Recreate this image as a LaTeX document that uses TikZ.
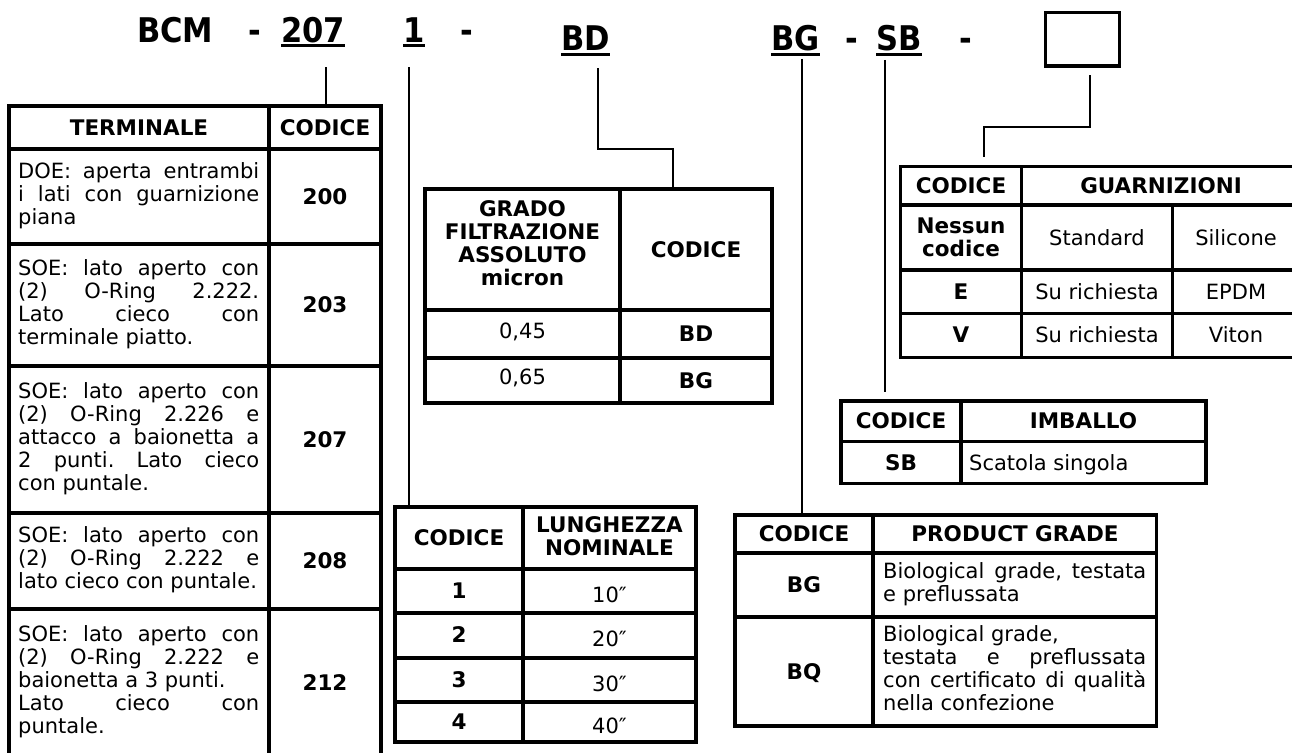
\documentclass[tikz,border=0pt]{standalone}
\usepackage{fontspec}
\setmainfont{DejaVu Sans}
\usepackage{graphicx}
\tolerance=10000 \hbadness=10000 \hyphenpenalty=10000 \exhyphenpenalty=10000
\frenchspacing
\newcommand\myhdf{\fontsize{21.5}{23}\selectfont\bfseries}
\newcommand\mytxf{\fontsize{21}{23}\selectfont}
\newcommand\mytitlef{\fontsize{34}{40}\selectfont\bfseries}
\newcommand\sx[1]{\scalebox{0.9}[1]{#1}}
\tikzset{
  tline/.style={line width=3.2pt},
  tframe/.style={draw, line width=3.2pt, inner sep=0pt, outer sep=0pt, anchor=north west},
  conn/.style={line width=2pt},
  ttl/.style={inner sep=0pt, anchor=base west, font=\mytitlef},
  ul/.style={line width=3pt},
  hd/.style={inner sep=0pt, font=\myhdf, align=center},
  hdb/.style={hd, anchor=base},
  txb/.style={inner sep=0pt, font=\mytxf, anchor=base},
  bodytext/.style={inner sep=0pt, font=\mytxf, text width=#1, align=justify, anchor=west}
}
\begin{document}
\begin{tikzpicture}[x=1pt,y=-1pt]
\path[use as bounding box] (0,0) rectangle (1292,752);
\clip (0,0) rectangle (1292,752);
\fill[white] (0,0) rectangle (1292,752);

% ---------- title ----------
\node[ttl] (tBCM) at (137,42) {\sx{BCM}};
\node[ttl] (tda) at (248,42) {\sx{-}};
\node[ttl] (t207) at (281,42) {\sx{207}};
\node[ttl] (t1) at (403,42) {\sx{1}};
\node[ttl] (tdb) at (460,42) {\sx{-}};
\node[ttl] (tBD) at (561,51) {\sx{BD}};
\node[ttl] (tBG) at (771,51) {\sx{BG}};
\node[ttl] (tdc) at (845,51) {\sx{-}};
\node[ttl] (tSB) at (876,51) {\sx{SB}};
\node[ttl] (tdd) at (959,51) {\sx{-}};
\foreach \n in {t207,t1,tBD,tBG,tSB}
  \draw[ul] ([yshift=-4pt]\n.base west) -- ([yshift=-4pt]\n.base east);
\node[draw, line width=3pt, inner sep=0pt, outer sep=0pt, minimum width=74, minimum height=53, anchor=north west] (box) at (1045,13) {};

% ---------- TERMINALE table ----------
\node[tframe, minimum width=372, minimum height=651] (tT) at (9,106) {};
\draw[tline] (269,106) -- (269,757);
\foreach \yy in {149,244,366,513,609} \draw[tline] (9,\yy) -- (381,\yy);
\node[hdb] (hT1) at (139,135) {TERMINALE};
\node[hdb] (hT2) at (325,135) {CODICE};
\node[hdb] (c200) at (325,204) {200};
\node[hdb] (c203) at (325,312.5) {203};
\node[hdb] (c207) at (325,447) {207};
\node[hdb] (c208) at (325,568.5) {208};
\node[hdb] (c212) at (325,690.5) {212};
\node[bodytext=241] (d200) at (18,196.5) {\noindent\strut DOE: aperta entrambi\linebreak i lati con guarnizione\linebreak piana\strut};
\node[bodytext=241] (d203) at (18,305) {\noindent\strut SOE: lato aperto con\linebreak (2) O-Ring 2.222.\linebreak Lato cieco con\linebreak terminale piatto.\strut};
\node[bodytext=241] (d207) at (18,439.5) {\noindent\strut SOE: lato aperto con\linebreak (2) O-Ring 2.226 e\linebreak attacco a baionetta a\linebreak 2 punti. Lato cieco\linebreak con puntale.\strut};
\node[bodytext=241] (d208) at (18,561) {\noindent\strut SOE: lato aperto con\linebreak (2) O-Ring 2.222 e\linebreak lato cieco con puntale.\strut};
\node[bodytext=241] (d212) at (18,683) {\noindent\strut SOE: lato aperto con\linebreak (2) O-Ring 2.222 e\linebreak baionetta a 3 punti.\newline Lato cieco con\linebreak puntale.\strut};

% ---------- GRADO table ----------
\node[tframe, minimum width=347, minimum height=214] (tG) at (425,189) {};
\draw[tline] (620,189) -- (620,403);
\foreach \yy in {310,358} \draw[tline] (425,\yy) -- (772,\yy);
\node[hd, anchor=north] (hG1) at (522.5,200.5) {GRADO\\FILTRAZIONE\\ASSOLUTO\\micron};
\node[hdb] (hG2) at (696,257) {CODICE};
\node[txb] (g1a) at (522.5,338) {0,45};
\node[hdb] (g1b) at (696,341.5) {BD};
\node[txb] (g2a) at (522.5,384.5) {0,65};
\node[hdb] (g2b) at (696,388) {BG};

% ---------- LUNGHEZZA table ----------
\node[tframe, minimum width=301, minimum height=235] (tL) at (395,507) {};
\draw[tline] (523,507) -- (523,742);
\foreach \yy in {569,613,658,702} \draw[tline] (395,\yy) -- (696,\yy);
\node[hdb] (hL1) at (459,545.5) {CODICE};
\node[hd] (hL2) at (609.5,536) {LUNGHEZZA\\NOMINALE};
\node[hdb] (l1a) at (459,598) {1};
\node[txb] (l1b) at (609.5,602) {10″};
\node[hdb] (l2a) at (459,642.5) {2};
\node[txb] (l2b) at (609.5,646.5) {20″};
\node[hdb] (l3a) at (459,687) {3};
\node[txb] (l3b) at (609.5,691) {30″};
\node[hdb] (l4a) at (459,729) {4};
\node[txb] (l4b) at (609.5,733) {40″};

% ---------- PRODUCT GRADE table ----------
\node[tframe, minimum width=421.5, minimum height=211] (tP) at (735,515) {};
\draw[tline] (873,515) -- (873,726);
\foreach \yy in {553,617} \draw[tline] (735,\yy) -- (1156.5,\yy);
\node[hdb] (hP1) at (804,541.5) {CODICE};
\node[hdb] (hP2) at (1015,541.5) {PRODUCT GRADE};
\node[hdb] (p1a) at (804,592.5) {BG};
\node[hdb] (p2a) at (804,679) {BQ};
\node[bodytext=263] (p1b) at (883,585) {\noindent\strut Biological grade, testata\linebreak e preflussata\strut};
\node[bodytext=263] (p2b) at (883,671.5) {\noindent\strut Biological grade,\newline testata e preflussata\linebreak con certificato di qualità\linebreak nella confezione\strut};

% ---------- IMBALLO table ----------
\node[tframe, minimum width=365, minimum height=82.3] (tI) at (841,401) {};
\draw[tline] (961,401) -- (961,483.3);
\draw[tline] (841,441.7) -- (1206,441.7);
\node[hdb] (hI1) at (901,428.5) {CODICE};
\node[hdb] (hI2) at (1083.5,428.5) {IMBALLO};
\node[hdb] (i1a) at (901,470) {SB};
\node[txb, anchor=base west] (i1b) at (969,470) {Scatola singola};

% ---------- GUARNIZIONI table ----------
\node[tframe, minimum width=399.3, minimum height=190.6] (tR) at (900.7,166.7) {};
\draw[tline] (1021.7,166.7) -- (1021.7,357.3);
\draw[tline] (1172.3,205) -- (1172.3,357.3);
\foreach \yy in {205,270,313.3} \draw[tline] (900.7,\yy) -- (1300,\yy);
\node[hdb] (hR1) at (961,193.5) {CODICE};
\node[hdb] (hR2) at (1161,193.5) {GUARNIZIONI};
\node[hd] (r1a) at (961,237.5) {Nessun\\codice};
\node[txb] (r1b) at (1097,245) {Standard};
\node[txb] (r1c) at (1236,245) {Silicone};
\node[hdb] (r2a) at (961,299.2) {E};
\node[txb] (r2b) at (1097,299.2) {Su richiesta};
\node[txb] (r2c) at (1236,299.2) {EPDM};
\node[hdb] (r3a) at (961,342.8) {V};
\node[txb] (r3b) at (1097,342.8) {Su richiesta};
\node[txb] (r3c) at (1236,342.8) {Viton};

% ---------- connectors ----------
\coordinate (k207) at (326,67);
\draw[conn] (k207) -- (k207 |- tT.north);
\coordinate (k1) at (409,67);
\draw[conn] (k1) -- (k1 |- tL.north);
\coordinate (kBD) at (598,68);
\coordinate (kBDt) at (673,149);
\draw[conn] (kBD) |- (kBDt) -- (kBDt |- tG.north);
\coordinate (kBG) at (802,59);
\draw[conn] (kBG) -- (kBG |- tP.north);
\coordinate (kSB) at (885,60);
\coordinate (kSBe) at (885,392);
\draw[conn] (kSB) -- (kSBe);
\coordinate (kbx) at (1090,75);
\coordinate (kbx2) at (984,127);
\coordinate (kbxe) at (984,157);
\draw[conn] (kbx) |- (kbx2) -- (kbxe);
\end{tikzpicture}
\end{document}
